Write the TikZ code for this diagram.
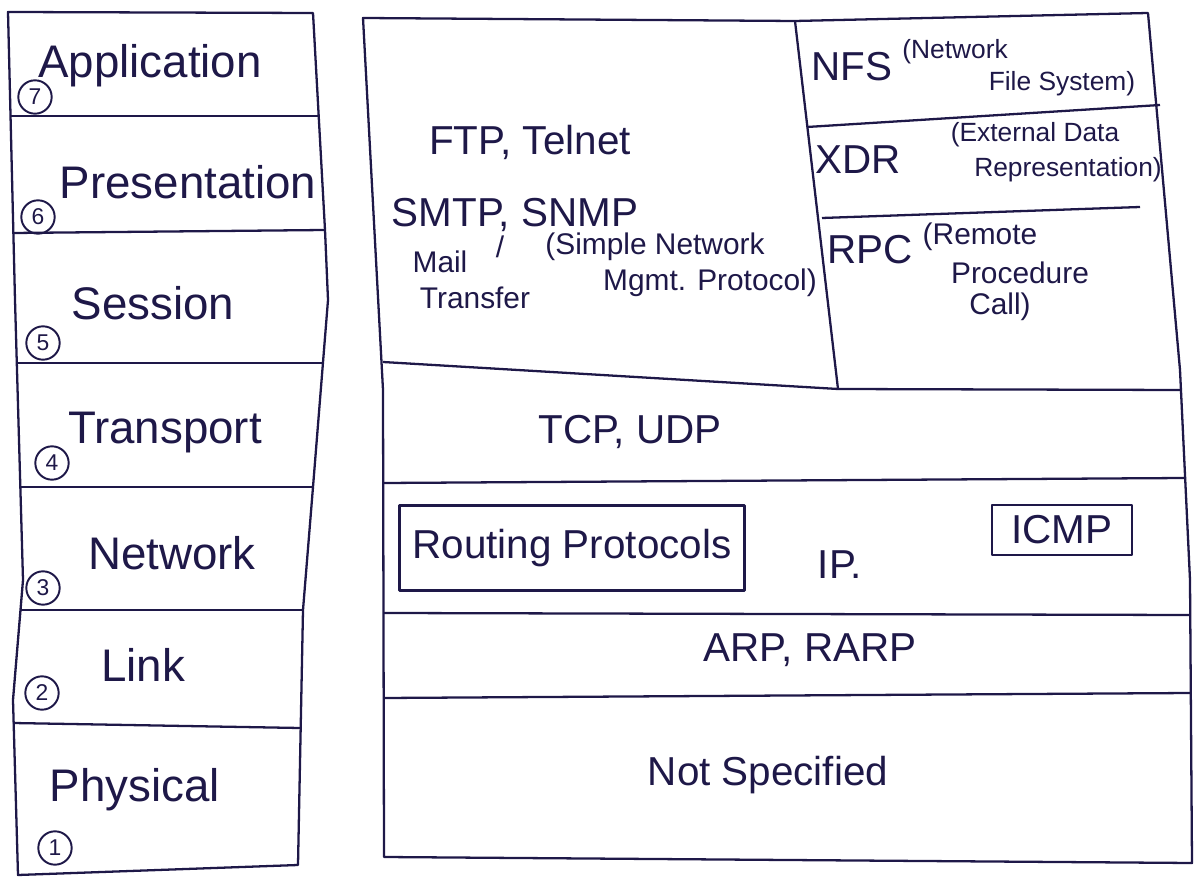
\documentclass[tikz,border=0pt]{standalone}
\usepackage{fontspec}
\setmainfont{Liberation Sans}
\definecolor{ink}{RGB}{30,24,72}

\begin{document}
\begin{tikzpicture}[x=0.02cm,y=-0.02cm,line width=1.3pt,draw=ink,text=ink,
    line join=round,
    layer/.style={font=\fontsize{26}{30}\selectfont},
    proto/.style={font=\fontsize{23}{27}\selectfont},
    note/.style={font=\fontsize{17}{20}\selectfont},
    small/.style={font=\fontsize{15}{18}\selectfont},
    num/.style={circle,draw,line width=1.1pt,minimum size=19pt,inner sep=0pt,
                font=\fontsize{13}{15}\selectfont},
    pbox/.style={draw,proto,inner sep=0pt}]

    \useasboundingbox (0,0) rectangle (1204,881);

    % OSI layers
    \draw (8,12) -- (313,13) -- (325,230) -- (328,300) -- (313,487) -- (303,610)
          -- (298,865) -- (18,875) -- (13,700) -- (23,580) -- (15,300) -- cycle;
    \draw (10,116) -- (319,116);
    \draw (13,233) -- (325,230);
    \draw (17,363) -- (323,363);
    \draw (20,487) -- (313,487);
    \draw (21,610) -- (303,610);
    \draw (13,723) -- (300,728);

    \node[layer] (app)   at (150,66)  {Application};
    \node[layer] (pres)  at (188,182) {Presentation};
    \node[layer] (sess)  at (153,303) {Session};
    \node[layer] (trans) at (165,433) {Transport};
    \node[layer] (netw)  at (172,553) {Network};
    \node[layer] (link)  at (143,665) {Link};
    \node[layer] (phys)  at (135,790) {Physical};

    \node[num] (n7) at (35,97)  {7};
    \node[num] (n6) at (38,217) {6};
    \node[num] (n5) at (43,343) {5};
    \node[num] (n4) at (52,463) {4};
    \node[num] (n3) at (43,588) {3};
    \node[num] (n2) at (42,693) {2};
    \node[num] (n1) at (55,848) {1};

    % TCP/IP suite
    \draw (363,18) -- (795,21) -- (1148,13) -- (1180,370) -- (1190,580)
          -- (1192,863) -- (384,857) -- (383,390) -- cycle;
    \draw (795,21) -- (838,389);
    \draw (807,127) -- (1160,105);
    \draw (822,218) -- (1140,207);
    \draw (383,362) -- (838,389) -- (1180,390);
    \draw (384,483) -- (1185,478);
    \draw (384,613) -- (1190,615);
    \draw (384,698) -- (1191,693);

    \node[proto] (ftp)  at (530,142) {FTP, Telnet};
    \node[proto] (smtp) at (515,215) {SMTP, SNMP};
    \node[note]  (mail) at (440,262) {Mail};
    \node[note]  (xfer) at (475,298) {Transfer};
    \node[note]  (sl)   at (500,247) {/};
    \node[note]  (snmpa) at (655,247) {(Simple Network};
    \node[note]  (snmpb) at (710,283) {Mgmt. Protocol)};

    \node[proto] (nfs)  at (852,67)  {NFS};
    \node[small] (nfsa) at (955,52)  {(Network};
    \node[small] (nfsb) at (1062,84) {File System)};

    \node[proto] (xdr)  at (858,160)  {XDR};
    \node[small] (xdra) at (1035,135) {(External Data};
    \node[small] (xdrb) at (1068,170) {Representation)};

    \node[proto] (rpc)  at (870,250)  {RPC};
    \node[note]  (rpca) at (980,237)  {(Remote};
    \node[note]  (rpcb) at (1020,273) {Procedure};
    \node[note]  (rpcc) at (1000,307) {Call)};

    \node[proto] (tcp) at (630,432) {TCP, UDP};

    \node[pbox,minimum width=6.9cm,minimum height=1.7cm] (routing) at (572,548) {Routing Protocols};
    \node[proto] (ip) at (840,565) {IP.};
    \node[pbox,minimum width=2.8cm,minimum height=1.0cm] (icmp) at (1062,530) {ICMP};

    \node[proto] (arp) at (810,650) {ARP, RARP};
    \node[proto] (ns)  at (768,775) {Not Specified};

\end{tikzpicture}
\end{document}
